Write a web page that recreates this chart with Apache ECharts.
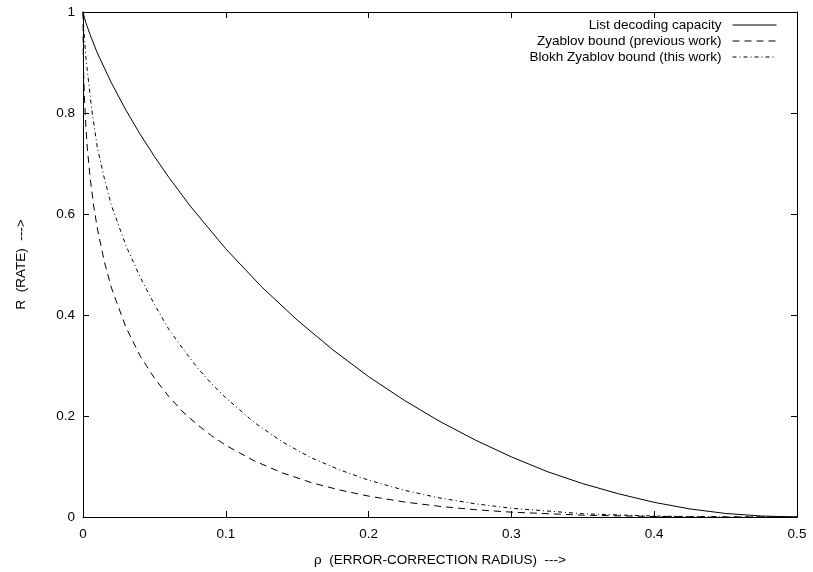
<!DOCTYPE html>
<html>
<head>
<meta charset="utf-8">
<script src="https://cdn.jsdelivr.net/npm/echarts@6/dist/echarts.min.js"></script>
<style>
  html, body { margin: 0; padding: 0; background: #fff; }
  #chart { width: 813px; height: 572px; }
</style>
</head>
<body>
<div id="chart"></div>
<script>
// values
const capRho = [0, 0.001, 0.002, 0.005, 0.01, 0.02, 0.03, 0.04, 0.05, 0.06, 0.075, 0.1, 0.125, 0.15, 0.175, 0.2,
  0.225, 0.25, 0.275, 0.3, 0.325, 0.35, 0.375, 0.4, 0.425, 0.45, 0.475, 0.5];
const capRate = [1, 0.989, 0.979, 0.955, 0.919, 0.859, 0.806, 0.758, 0.714, 0.673, 0.616, 0.531, 0.456, 0.39, 0.331, 0.278,
  0.231, 0.189, 0.152, 0.119, 0.09, 0.066, 0.046, 0.029, 0.016, 0.007, 0.002, 0];

const zyRho = [0, 0.0002, 0.0005, 0.001, 0.002, 0.003, 0.005, 0.0075, 0.01, 0.015, 0.02, 0.03, 0.04, 0.05, 0.06, 0.07,
  0.08, 0.09, 0.1, 0.12, 0.14, 0.16, 0.18, 0.2, 0.225, 0.25, 0.275, 0.3, 0.35, 0.4, 0.45, 0.5];
const zyRate = [1, 0.914, 0.875, 0.831, 0.774, 0.732, 0.671, 0.616, 0.572, 0.505, 0.453, 0.376, 0.319, 0.275, 0.239, 0.208,
  0.183, 0.161, 0.142, 0.111, 0.087, 0.068, 0.0533, 0.0414, 0.0297, 0.021, 0.0143, 0.0096, 0.0036, 0.001, 0.0001, 0];

const bzRho = [0, 0.0005, 0.001, 0.002, 0.003, 0.004, 0.006, 0.01, 0.015, 0.02, 0.03, 0.04, 0.05, 0.06, 0.07, 0.08,
  0.09, 0.1, 0.12, 0.14, 0.16, 0.18, 0.2, 0.225, 0.25, 0.275, 0.3, 0.35, 0.4, 0.45, 0.5];
const bzRate = [1, 0.97, 0.95, 0.91, 0.885, 0.86, 0.81, 0.732, 0.67, 0.616, 0.538, 0.475, 0.421, 0.372, 0.333, 0.296,
  0.264, 0.236, 0.187, 0.148, 0.117, 0.093, 0.073, 0.053, 0.0375, 0.026, 0.0173, 0.0065, 0.0018, 0.0002, 0];

const seriesNames = ['List decoding capacity', 'Zyablov bound (previous work)', 'Blokh Zyablov bound (this work)'];

const font = 'Liberation Sans, Arial, Helvetica, sans-serif';
const pairs = (xs, ys) => xs.map((x, i) => [x, ys[i]]);

const mkLine = (name, data, type) => {
  return {
    name: name,
    type: 'line',
    data: data,
    symbol: 'none',
    smooth: false,
    animation: false,
    lineStyle: { color: '#000', width: 1, type: type },
    itemStyle: { color: '#000' },
  };
};

const chart = echarts.init(document.getElementById('chart'), null, { renderer: 'canvas' });

const tickStyle = { show: true, inside: true, length: 6, lineStyle: { color: '#000', width: 1 } };
const lineStyle = { show: true, onZero: false, lineStyle: { color: '#000', width: 1 } };

chart.setOption({
  backgroundColor: '#fff',
  animation: false,
  textStyle: { fontFamily: font, color: '#000' },
  grid: { left: 83, right: 16, top: 12, bottom: 53, show: false },
  legend: {
    orient: 'vertical',
    right: 31,
    top: 13,
    align: 'right',
    itemWidth: 44,
    itemHeight: 14,
    itemGap: 2,
    itemStyle: { opacity: 0 },
    lineStyle: { width: 1 },
    textStyle: { fontFamily: font, fontSize: 13.5, color: '#000', padding: [0, 6, 0, 0] },
    data: seriesNames,
  },
  xAxis: [
    {
      type: 'value', min: 0, max: 0.5, interval: 0.1,
      name: 'ρ  (ERROR-CORRECTION RADIUS)  --->',
      nameLocation: 'middle', nameGap: 36,
      nameTextStyle: { fontFamily: font, fontSize: 13.5, color: '#000' },
      axisLine: lineStyle, axisTick: tickStyle,
      axisLabel: { fontFamily: font, fontSize: 13.5, color: '#000', margin: 10 },
      splitLine: { show: false },
    },
    {
      type: 'value', min: 0, max: 0.5, interval: 0.1, position: 'top',
      axisLine: lineStyle, axisTick: tickStyle,
      axisLabel: { show: false }, splitLine: { show: false },
    },
  ],
  yAxis: [
    {
      type: 'value', min: 0, max: 1, interval: 0.2,
      name: 'R  (RATE)  --->',
      nameLocation: 'middle', nameGap: 55,
      nameTextStyle: { fontFamily: font, fontSize: 13.5, color: '#000' },
      axisLine: lineStyle, axisTick: tickStyle,
      axisLabel: { fontFamily: font, fontSize: 13.5, color: '#000', margin: 8 },
      splitLine: { show: false },
    },
    {
      type: 'value', min: 0, max: 1, interval: 0.2, position: 'right',
      axisLine: lineStyle, axisTick: tickStyle,
      axisLabel: { show: false }, splitLine: { show: false },
    },
  ],
  series: [
    mkLine(seriesNames[0], pairs(capRho, capRate), 'solid'),
    mkLine(seriesNames[1], pairs(zyRho, zyRate), [7, 5]),
    mkLine(seriesNames[2], pairs(bzRho, bzRate), [4, 3, 1, 3]),
  ],
});
</script>
</body>
</html>
